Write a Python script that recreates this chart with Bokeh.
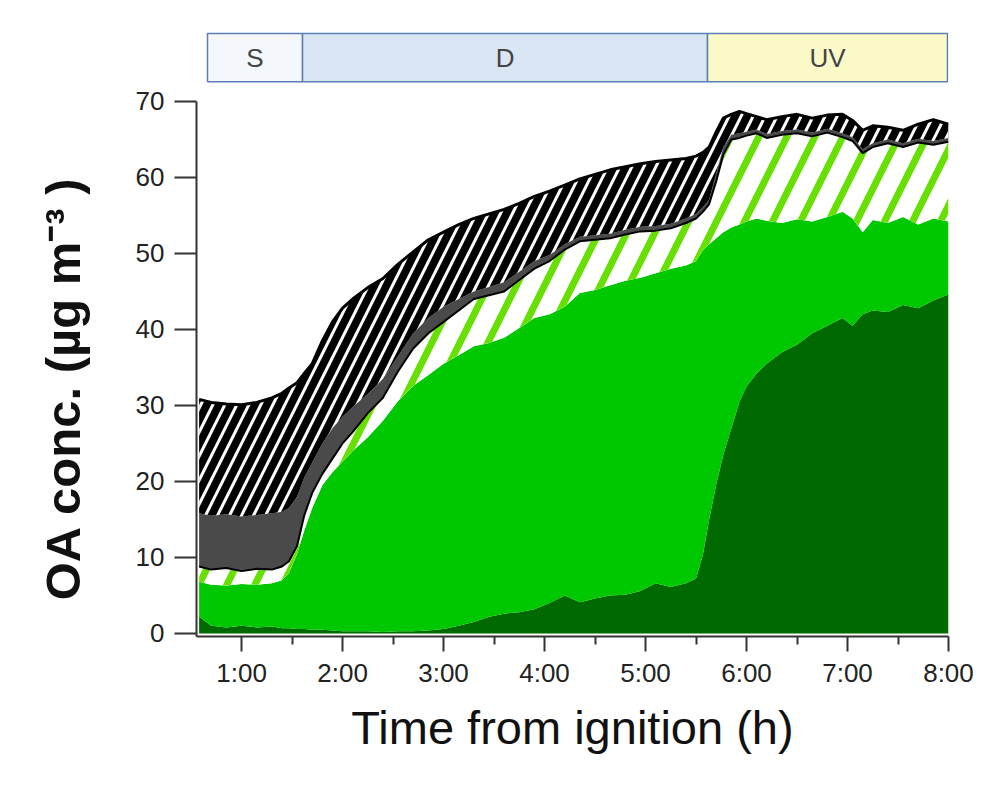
import numpy as np
from bokeh.plotting import figure
from bokeh.models import Range1d, FixedTicker
from bokeh.embed import file_html
from bokeh.resources import INLINE
from bokeh.core.properties import value

# ---------------- data ----------------
time_h = [0.58, 0.7, 0.85, 1.0, 1.15, 1.3, 1.4, 1.47, 1.55, 1.62, 1.7, 1.8, 1.9, 2.0, 2.1,
          2.25, 2.4, 2.55, 2.7, 2.85, 3.0, 3.15, 3.3, 3.45, 3.6, 3.75, 3.9, 4.05, 4.2, 4.35,
          4.5, 4.65, 4.8, 4.95, 5.1, 5.25, 5.4, 5.5, 5.57, 5.63, 5.7, 5.77, 5.85, 5.93, 6.0,
          6.1, 6.2, 6.35, 6.5, 6.65, 6.8, 6.95, 7.05, 7.15, 7.25, 7.4, 7.55, 7.7, 7.85, 8.0]

dark_green_top = [2.2, 1.0, 0.8, 1.0, 0.8, 0.9, 0.7, 0.7, 0.6, 0.6, 0.5, 0.5, 0.4, 0.3, 0.3,
                  0.3, 0.2, 0.3, 0.3, 0.4, 0.6, 1.0, 1.5, 2.2, 2.6, 2.8, 3.2, 4.0, 5.0, 4.1,
                  4.6, 5.0, 5.1, 5.6, 6.6, 6.1, 6.6, 7.2, 10.5, 15.0, 19.6, 23.5, 27.0, 30.5, 32.5,
                  34.2, 35.5, 37.0, 38.0, 39.5, 40.5, 41.5, 40.5, 42.0, 42.5, 42.3, 43.2, 42.8, 43.8, 44.6]

green_top = [6.8, 6.4, 6.3, 6.5, 6.4, 6.6, 7.0, 8.0, 10.5, 13.5, 16.5, 19.5, 21.2, 22.6, 24.0,
             25.8, 28.0, 30.6, 32.6, 34.0, 35.5, 36.6, 37.8, 38.2, 38.9, 40.2, 41.5, 42.0, 43.0, 44.8,
             45.2, 45.8, 46.4, 46.8, 47.4, 48.0, 48.4, 49.0, 50.5, 51.2, 52.0, 52.8, 53.4, 53.8, 54.2,
             54.6, 54.3, 54.0, 54.5, 54.2, 54.8, 55.5, 54.6, 52.8, 54.4, 54.0, 54.8, 53.8, 54.6, 54.2]

lime_top = [8.8, 8.4, 8.6, 8.2, 8.5, 8.4, 8.8, 9.5, 11.5, 15.5, 18.5, 21.0, 23.0, 25.0, 26.5,
            29.0, 31.0, 34.5, 37.5, 39.5, 41.0, 42.5, 44.0, 44.5, 45.0, 46.5, 48.0, 49.0, 50.5, 51.6,
            51.8, 52.0, 52.5, 52.9, 53.0, 53.3, 54.0, 54.6, 55.5, 56.5, 59.5, 63.0, 65.0, 65.2, 65.5,
            65.8, 65.2, 65.6, 65.8, 65.4, 65.9, 65.3, 64.8, 63.2, 64.0, 64.5, 64.0, 64.6, 64.3, 64.7]

grey_top = [15.8, 15.5, 15.7, 15.4, 15.6, 15.8, 16.0, 16.5, 18.0, 20.5, 22.5, 25.0, 27.0, 28.5, 29.8,
            31.5, 33.5, 36.5, 39.5, 41.5, 43.0, 44.0, 45.0, 45.6, 46.2, 47.6, 49.0, 49.8, 51.2, 52.2,
            52.4, 52.6, 53.1, 53.5, 53.6, 53.9, 54.6, 55.2, 56.1, 57.1, 60.5, 64.0, 65.6, 65.8, 66.0,
            66.3, 65.7, 66.1, 66.3, 65.9, 66.4, 65.8, 65.3, 63.7, 64.5, 65.0, 64.5, 65.1, 64.8, 65.2]

total_top = [30.8, 30.4, 30.2, 30.1, 30.4, 31.0, 31.6, 32.3, 33.0, 34.2, 35.5, 38.5, 41.0, 42.8, 44.0,
             45.5, 46.7, 48.6, 50.2, 51.8, 52.8, 53.8, 54.6, 55.2, 55.8, 56.6, 57.5, 58.2, 59.0, 59.8,
             60.4, 61.0, 61.4, 61.8, 62.1, 62.3, 62.5, 62.8, 63.3, 64.0, 66.0, 67.8, 68.3, 68.7, 68.4,
             68.0, 67.6, 68.0, 68.3, 67.8, 68.2, 68.3, 67.5, 66.2, 66.8, 66.6, 66.2, 67.0, 67.6, 67.0]

x_ticks = [1, 2, 3, 4, 5, 6, 7, 8]
x_tick_labels = ["1:00", "2:00", "3:00", "4:00", "5:00", "6:00", "7:00", "8:00"]
x_minor_ticks = [1.5, 2.5, 3.5, 4.5, 5.5, 6.5, 7.5]
y_ticks = [0, 10, 20, 30, 40, 50, 60, 70]

phase_names = ["S", "D", "UV"]
phase_start = [0.663, 1.604, 5.614]
phase_end = [1.604, 5.614, 7.99]
phase_colors = ["#f4f7fc", "#dbe6f4", "#fcf9c9"]

# layout constants (where the phase strip sits above the data area)
BAND_BOTTOM = 72.6
BAND_TOP = 78.95

FONT = "Liberation Sans"
W = 985
LEFT = 196
RIGHT = W - LEFT - 752

p = figure(width=W, height=786, x_range=Range1d(0.554, 8.0), y_range=Range1d(-0.4, 79.2),
           output_backend="svg", toolbar_location=None,
           min_border_left=LEFT, min_border_right=RIGHT, min_border_top=31, min_border_bottom=150)
p.grid.visible = False
p.outline_line_color = None
p.background_fill_color = "white"

t = np.array(time_h)
zeros = np.zeros_like(t)

p.varea(x=t, y1=zeros, y2=dark_green_top, fill_color="#006a00")
p.varea(x=t, y1=dark_green_top, y2=green_top, fill_color="#00c800")
p.varea(x=t, y1=green_top, y2=lime_top, fill_color="white",
        hatch_pattern="/", hatch_color="#66e000", hatch_scale=56, hatch_weight=7)
p.varea(x=t, y1=lime_top, y2=grey_top, fill_color="#4a4a4a")
p.varea(x=t, y1=grey_top, y2=total_top, fill_color="black",
        hatch_pattern="/", hatch_color="white", hatch_scale=24, hatch_weight=3)
p.line(t, lime_top, line_color="black", line_width=2)
p.line(t, total_top, line_color="black", line_width=3)

# phase strip
p.quad(left=phase_start, right=phase_end, bottom=BAND_BOTTOM, top=BAND_TOP,
       fill_color=phase_colors, line_color="#5b7fb3", line_width=1.5)
phase_mid = [(a + b) / 2 for a, b in zip(phase_start, phase_end)]
p.text(x=phase_mid, y=[(BAND_BOTTOM + BAND_TOP) / 2] * len(phase_mid), text=phase_names,
       text_align="center", text_baseline="middle", text_font=value(FONT),
       text_font_size="26px", text_color="#444444")

p.xaxis.ticker = FixedTicker(ticks=x_ticks, minor_ticks=x_minor_ticks)
p.xaxis.major_label_overrides = {k: v for k, v in zip(x_ticks, x_tick_labels)}
p.yaxis.ticker = FixedTicker(ticks=y_ticks)
p.yaxis.bounds = (-0.4, 70)

for ax in (p.xaxis[0], p.yaxis[0]):
    ax.axis_line_width = 2
    ax.axis_line_color = "#333333"
    ax.major_tick_line_width = 2
    ax.major_tick_line_color = "#333333"
    ax.major_tick_in = 0
    ax.major_label_text_font = FONT
    ax.major_label_text_font_size = "26px"
    ax.major_label_text_color = "#222222"
    ax.axis_label_text_font = FONT
    ax.axis_label_text_color = "#111111"

p.xaxis.major_tick_out = 15
p.xaxis.minor_tick_out = 8
p.xaxis.minor_tick_in = 0
p.xaxis.minor_tick_line_width = 2
p.xaxis.minor_tick_line_color = "#333333"
p.xaxis.major_label_standoff = 6
p.xaxis.axis_label = "Time from ignition (h)"
p.xaxis.axis_label_text_font_size = "47px"
p.xaxis.axis_label_text_font_style = "normal"
p.xaxis.axis_label_standoff = 10

p.yaxis.major_tick_out = 22
p.yaxis.minor_tick_line_color = None
p.yaxis.major_label_standoff = 10
p.yaxis.axis_label = "OA conc. (µg m⁻³ )" + "\u00a0" * 8
p.yaxis.axis_label_text_font_size = "49px"
p.yaxis.axis_label_text_font_style = "bold"
p.yaxis.axis_label_standoff = 43

open("out.html", "w").write(file_html(p, INLINE))
